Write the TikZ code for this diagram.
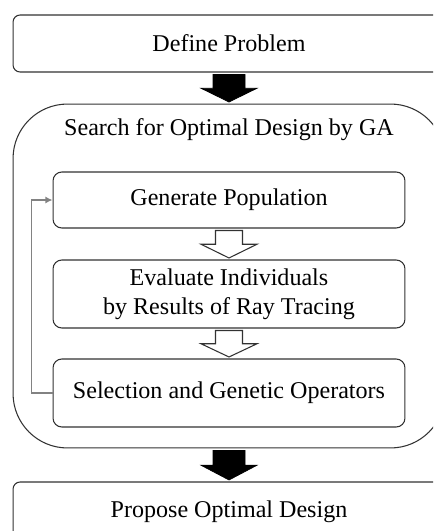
\documentclass[tikz,border=0pt]{standalone}
\usepackage{fontspec}
\setmainfont{Liberation Serif}
\usepackage{xcolor}
\usepackage{tikz}
\usetikzlibrary{arrows.meta, positioning, calc}
\definecolor{edge}{RGB}{50,50,50}
\definecolor{loopgray}{RGB}{130,130,130}
\tikzset{
  stage/.style={rectangle, rounded corners=4pt, draw=edge, line width=0.6pt, fill=white,
                minimum width=8.64cm, minimum height=1.14cm, align=center},
  ga/.style={rectangle, rounded corners=31pt, draw=edge, line width=0.6pt,
             minimum width=8.64cm, minimum height=6.88cm},
  sub/.style={rectangle, rounded corners=5pt, draw=edge, line width=0.6pt, fill=white,
              minimum width=7.04cm, minimum height=1.36cm, align=center},
  solidarr/.style={fill=black, draw=black, line width=0.4pt},
  hollowarr/.style={fill=white, draw=edge, line width=0.6pt},
  loop/.style={-{Latex[length=4pt,width=4pt]}, draw=loopgray, line width=0.9pt},
}
\newcommand{\blockarr}[4]{%
  \coordinate (ba1) at ($(#1.south)+(0,2)$);
  \coordinate (ba2) at (ba1 |- #2.north);
  \coordinate (ba2) at ($(ba2)+(0,-1.5)$);
  \coordinate (bam) at ($(ba1)!0.5!(ba2)$);
  \draw[#3] ($(ba1)+(-#4,0)$) -- ($(bam)+(-#4,0)$) -- ($(bam)+(-28,0)$) -- (ba2)
    -- ($(bam)+(28,0)$) -- ($(bam)+(#4,0)$) -- ($(ba1)+(#4,0)$) -- cycle;}

\begin{document}
\begin{tikzpicture}[x=0.02cm, y=-0.02cm, font=\fontsize{13.7}{16.5}\selectfont]
\useasboundingbox (0,0) rectangle (433,531);
\clip (0,0) rectangle (433,531);
\node[stage] (define) at (229,43.5) {Define Problem};
\node[ga] (search) at (229,276) {};
\node (title) at (229,130) {Search for Optimal Design by GA};
\node[sub, minimum height=1.12cm] (genpop) at (229,200) {Generate Population};
\node[sub] (evaluate) at (229,294) {Evaluate Individuals\\by Results of Ray Tracing};
\node[sub] (select) at (229,393) {Selection and Genetic Operators};
\node[stage, minimum height=1.2cm] (propose) at (229,512) {Propose Optimal Design};
\blockarr{define}{search}{solidarr}{16}
\blockarr{genpop}{evaluate}{hollowarr}{13.5}
\blockarr{evaluate}{select}{hollowarr}{13.5}
\blockarr{search}{propose}{solidarr}{16}
\draw[loop] (select.west) -- ++(-21,0) |- (genpop.west);
\end{tikzpicture}
\end{document}
